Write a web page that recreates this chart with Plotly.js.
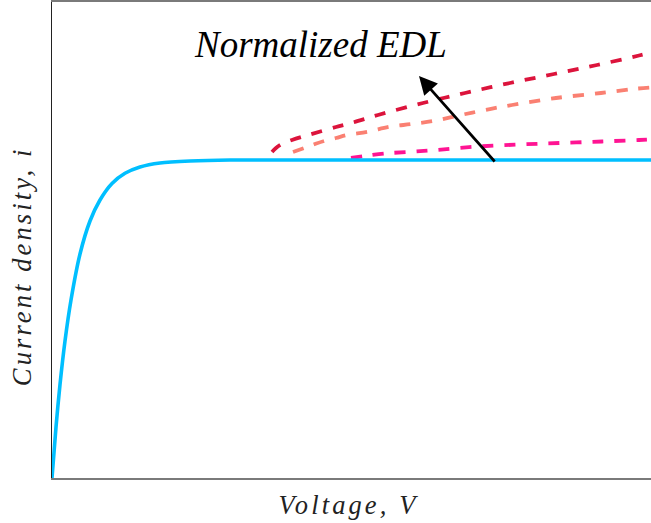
<!DOCTYPE html>
<html>
<head>
<meta charset="utf-8">
<script src="https://cdn.plot.ly/plotly-3.0.1.min.js"></script>
<style>
  html, body { margin: 0; padding: 0; background: #ffffff; }
  #chart { width: 651px; height: 523px; }
  /* math-style spacing for the axis labels */
  .axis-label { letter-spacing: 3.1px; }
</style>
</head>
<body>
<div id="chart"></div>
<script>
// Polarisation curve: current density rises and saturates at the limiting value.
const limitV = [0, 0.04, 0.08, 0.13, 0.19, 0.28, 0.38, 0.48, 0.60, 0.73, 0.88, 1.08, 1.38, 1.78, 2.48, 5.99];
const limitI = [0, 0.51, 0.935, 1.37, 1.78, 2.24, 2.57, 2.78, 2.945, 3.047, 3.11, 3.15, 3.17, 3.18, 3.18, 3.18];

// Over-limiting branches for three normalized EDL thicknesses.
const edlHighV = [2.20, 2.24, 2.30, 2.40, 2.58, 2.84, 3.01, 3.26, 3.71, 4.13, 4.58, 5.02, 5.45, 5.87, 5.99];
const edlHighI = [3.26, 3.30, 3.34, 3.38, 3.435, 3.51, 3.555, 3.63, 3.75, 3.85, 3.95, 4.04, 4.13, 4.225, 4.255];

const edlMidV = [2.41, 2.53, 2.63, 2.73, 2.84, 2.95, 3.16, 3.38, 3.60, 3.83, 4.09, 4.33, 4.60, 5.04, 5.49, 5.81, 5.99];
const edlMidI = [3.26, 3.303, 3.34, 3.373, 3.40, 3.43, 3.463, 3.513, 3.54, 3.573, 3.63, 3.68, 3.73, 3.80, 3.85, 3.89, 3.905];

const edlLowV = [2.99, 3.13, 3.32, 3.56, 3.84, 4.23, 4.67, 5.08, 5.50, 5.87, 5.99];
const edlLowI = [3.20, 3.22, 3.245, 3.26, 3.28, 3.313, 3.335, 3.35, 3.365, 3.38, 3.385];

// Arrow marking the direction of increasing EDL thickness.
const arrowFrom = [4.44, 3.15];
const arrowTo = [3.67, 4.02];
const arrowLabel = 'Normalized EDL';
const arrowLabelAt = [2.68, 4.34];

const xLabel = 'Voltage, V';
const yLabel = 'Current density, i';

const dashed = (color) => ({ color: color, width: 3.8, dash: '11px,11px', shape: 'spline' });

const traces = [
  { x: edlLowV, y: edlLowI, mode: 'lines', line: dashed('#ff1493'), hoverinfo: 'skip' },
  { x: edlMidV, y: edlMidI, mode: 'lines', line: dashed('#fa8072'), hoverinfo: 'skip' },
  { x: edlHighV, y: edlHighI, mode: 'lines', line: dashed('#dc143c'), hoverinfo: 'skip' },
  { x: limitV, y: limitI, mode: 'lines',
    line: { color: '#00bfff', width: 3.6, shape: 'spline', smoothing: 0.8 }, hoverinfo: 'skip' }
];

const serif = 'Liberation Serif, Times New Roman, serif';

const layout = {
  width: 651, height: 523,
  margin: { l: 52, r: 0, t: 2, b: 45 },
  paper_bgcolor: '#ffffff', plot_bgcolor: '#ffffff',
  showlegend: false,
  xaxis: {
    range: [0, 5.99], showgrid: false, zeroline: false, showticklabels: false, ticks: '',
    showline: true, linecolor: '#7a7a7a', linewidth: 1.6, mirror: true
  },
  yaxis: {
    range: [0, 4.76], showgrid: false, zeroline: false, showticklabels: false, ticks: '',
    showline: true, linecolor: '#222222', linewidth: 1.4, mirror: false
  },
  annotations: [
    {
      x: arrowTo[0], y: arrowTo[1], ax: arrowFrom[0], ay: arrowFrom[1],
      xref: 'x', yref: 'y', axref: 'x', ayref: 'y',
      text: '', showarrow: true, arrowhead: 2, arrowsize: 1.35, arrowwidth: 2.7,
      arrowcolor: '#000000', standoff: 0, startstandoff: 0
    },
    {
      x: arrowLabelAt[0], y: arrowLabelAt[1], xref: 'x', yref: 'y',
      text: '<i>' + arrowLabel + '</i>', showarrow: false,
      xanchor: 'center', yanchor: 'middle',
      font: { family: serif, size: 37, color: '#000000' }
    },
    {
      x: 0.4975, y: -0.057, xref: 'paper', yref: 'paper',
      text: '<i>' + xLabel + '</i>', showarrow: false,
      xanchor: 'center', yanchor: 'middle', name: 'xlabel',
      font: { family: serif, size: 26.5, color: '#222222' }
    },
    {
      x: -0.05, y: 0.445, xref: 'paper', yref: 'paper',
      text: '<i>' + yLabel + '</i>', showarrow: false, textangle: -90,
      xanchor: 'center', yanchor: 'middle', name: 'ylabel',
      font: { family: serif, size: 26.5, color: '#222222' }
    }
  ]
};

// Tag the two axis-label annotations so the spacing rule applies to them.
const tagLabels = (gd) => {
  const texts = gd.querySelectorAll('.annotation-text');
  texts.forEach((t) => {
    const s = t.textContent;
    if (s === xLabel || s === yLabel) t.classList.add('axis-label');
  });
};

Plotly.newPlot('chart', traces, layout, { staticPlot: true, displayModeBar: false }).then((gd) => {
  tagLabels(gd);
  // re-run layout of annotations so centring uses the spaced text width
  Plotly.relayout(gd, {}).then(() => tagLabels(gd));
});
</script>
</body>
</html>
